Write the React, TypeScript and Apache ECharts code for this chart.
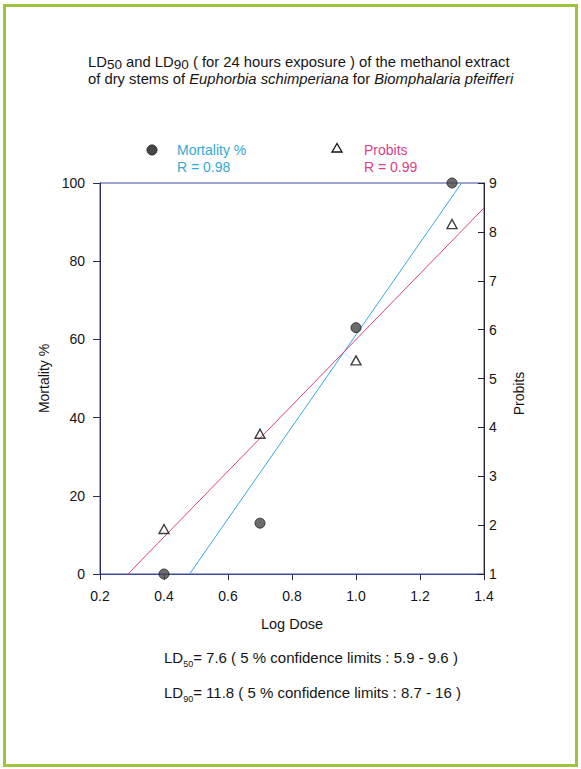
import React, { useEffect, useRef } from "react";
import * as echarts from "echarts";

// ---- data ----
const logDose = [0.4, 0.7, 1.0, 1.3];
const mortality = [0, 13, 63, 100];
const probits = [1.92, 3.87, 5.37, 8.16];
// regression lines (end points on the plot edges)
const mortalityFitX = [0.48, 1.33];
const mortalityFitY = [0, 100];
const probitFitX = [0.2875, 1.4];
const probitFitY = [1.0, 8.49];

const xTicks = { min: 0.2, max: 1.4, interval: 0.2 };
const leftTicks = { min: 0, max: 100, interval: 20 };
const rightTicks = { min: 1, max: 9, interval: 1 };

const FONT = '"Liberation Sans", Arial, Helvetica, sans-serif';
const CYAN = "#36a9d6";
const PINK = "#dc3f86";
const TXT = "#151515";

export default function App() {
  const ref = useRef<HTMLDivElement>(null);
  useEffect(() => {
    const chart = echarts.init(ref.current!, null, { renderer: "svg" });
    const pair = (xs: number[], ys: number[]) => xs.map((x, i) => [x, ys[i]]);
    chart.setOption({
      animation: false,
      backgroundColor: "#ffffff",
      textStyle: { fontFamily: FONT },
      grid: {
        left: 100,
        top: 183,
        width: 384,
        height: 391,
        show: true,
        borderColor: "#3d4d9e",
        borderWidth: 1,
        backgroundColor: "transparent",
      },
      xAxis: {
        type: "value",
        min: xTicks.min,
        max: xTicks.max,
        interval: xTicks.interval,
        name: "Log Dose",
        nameLocation: "middle",
        nameGap: 42,
        nameTextStyle: { fontFamily: FONT, fontSize: 14.5, color: TXT },
        axisLine: { show: true, onZero: false, lineStyle: { color: "#3d4d9e", width: 1 } },
        axisTick: { show: true, length: 6, lineStyle: { color: "#2a2c48" } },
        axisLabel: {
          fontFamily: FONT,
          fontSize: 14,
          color: TXT,
          margin: 15,
          formatter: (v: number) => v.toFixed(1),
        },
        splitLine: { show: false },
      },
      yAxis: [
        {
          type: "value",
          position: "left",
          min: leftTicks.min,
          max: leftTicks.max,
          interval: leftTicks.interval,
          name: "Mortality %",
          nameLocation: "middle",
          nameGap: 42,
          nameRotate: 90,
          nameTextStyle: { fontFamily: FONT, fontSize: 14, color: TXT },
          axisLine: { show: true, onZero: false, lineStyle: { color: "#2c2f5e", width: 1 } },
          axisTick: { show: true, length: 7, lineStyle: { color: "#2c2f5e" } },
          axisLabel: { fontFamily: FONT, fontSize: 14, color: TXT, margin: 15 },
          splitLine: { show: false },
        },
        {
          type: "value",
          position: "right",
          min: rightTicks.min,
          max: rightTicks.max,
          interval: rightTicks.interval,
          name: "Probits",
          nameLocation: "middle",
          nameGap: 28,
          nameRotate: 90,
          nameTextStyle: { fontFamily: FONT, fontSize: 14, color: TXT, padding: [0, 30, 0, 0] },
          axisLine: { show: true, onZero: false, lineStyle: { color: "#222238", width: 1 } },
          axisTick: { show: true, inside: true, length: 6, lineStyle: { color: "#222238" } },
          axisLabel: { fontFamily: FONT, fontSize: 14, color: TXT, margin: 5 },
          splitLine: { show: false },
        },
      ],
      series: [
        {
          name: "Mortality fit",
          type: "line",
          yAxisIndex: 0,
          data: pair(mortalityFitX, mortalityFitY),
          showSymbol: false,
          symbol: "none",
          lineStyle: { color: CYAN, width: 1 },
          z: 2,
        },
        {
          name: "Probit fit",
          type: "line",
          yAxisIndex: 1,
          data: pair(probitFitX, probitFitY),
          showSymbol: false,
          symbol: "none",
          lineStyle: { color: PINK, width: 1 },
          z: 2,
        },
        {
          name: "Mortality %",
          type: "scatter",
          yAxisIndex: 0,
          data: pair(logDose, mortality),
          symbol: "circle",
          symbolSize: 10,
          itemStyle: { color: "#474747", borderColor: "#1e1e1e", borderWidth: 1 },
          z: 4,
        },
        {
          name: "Probits",
          type: "scatter",
          yAxisIndex: 1,
          data: pair(logDose, probits),
          symbol: "triangle",
          symbolSize: [10, 9],
          itemStyle: { color: "rgba(255,255,255,0)", borderColor: "#111111", borderWidth: 1.4 },
          z: 4,
        },
      ],
      graphic: [
        {
          type: "rect",
          shape: { x: 4.5, y: 5.5, width: 572, height: 760 },
          style: { fill: "none", stroke: "#9dc43c", lineWidth: 3 },
          silent: true,
        },
        {
          type: "text",
          x: 88,
          y: 52,
          style: {
            text: "{a|LD}{s|50}{a| and LD}{s|90}{a| ( for 24 hours exposure ) of the methanol extract}",
            fill: TXT,
            rich: {
              a: { fontFamily: FONT, fontSize: 14.8, lineHeight: 19, verticalAlign: "middle", fill: TXT },
              s: { fontFamily: FONT, fontSize: 13.5, lineHeight: 19, verticalAlign: "bottom", fill: TXT },
            },
          },
        },
        {
          type: "text",
          x: 88,
          y: 69,
          style: {
            text: "{a|of dry stems of }{i|Euphorbia schimperiana}{a| for }{i|Biomphalaria pfeifferi}",
            fill: TXT,
            rich: {
              a: { fontFamily: FONT, fontSize: 14.8, lineHeight: 19, fill: TXT },
              i: { fontFamily: FONT, fontSize: 14.8, fontStyle: "italic", lineHeight: 19, fill: TXT },
            },
          },
        },
        // legend
        {
          type: "circle",
          shape: { cx: 152, cy: 150, r: 5 },
          style: { fill: "#474747", stroke: "#1e1e1e", lineWidth: 1 },
        },
        {
          type: "text",
          x: 177,
          y: 150,
          style: { text: "Mortality %", fontFamily: FONT, fontSize: 14, fill: CYAN, verticalAlign: "middle" },
        },
        {
          type: "text",
          x: 177,
          y: 167,
          style: { text: "R = 0.98", fontFamily: FONT, fontSize: 14, fill: CYAN, verticalAlign: "middle" },
        },
        {
          type: "polygon",
          shape: { points: [[337, 143.5], [332, 152], [342, 152]] },
          style: { fill: "none", stroke: "#111111", lineWidth: 1.3 },
        },
        {
          type: "text",
          x: 364,
          y: 150,
          style: { text: "Probits", fontFamily: FONT, fontSize: 14, fill: PINK, verticalAlign: "middle" },
        },
        {
          type: "text",
          x: 364,
          y: 167,
          style: { text: "R = 0.99", fontFamily: FONT, fontSize: 14, fill: PINK, verticalAlign: "middle" },
        },
        // LD results
        {
          type: "text",
          x: 164,
          y: 646,
          style: {
            text: "{a|LD}{s|50}{a|= 7.6 ( 5 % confidence limits : 5.9 - 9.6 )}",
            fill: TXT,
            rich: {
              a: { fontFamily: FONT, fontSize: 15, lineHeight: 22, verticalAlign: "middle", fill: TXT },
              s: { fontFamily: FONT, fontSize: 9, lineHeight: 22, verticalAlign: "bottom", fill: TXT },
            },
          },
        },
        {
          type: "text",
          x: 164,
          y: 681,
          style: {
            text: "{a|LD}{s|90}{a|= 11.8 ( 5 % confidence limits : 8.7 - 16 )}",
            fill: TXT,
            rich: {
              a: { fontFamily: FONT, fontSize: 15, lineHeight: 22, verticalAlign: "middle", fill: TXT },
              s: { fontFamily: FONT, fontSize: 9, lineHeight: 22, verticalAlign: "bottom", fill: TXT },
            },
          },
        },
      ],
    });
    return () => chart.dispose();
  }, []);
  return (
    <div
      ref={ref}
      style={{ position: "absolute", left: 0, top: 0, width: 581, height: 769, background: "#fff" }}
    />
  );
}
